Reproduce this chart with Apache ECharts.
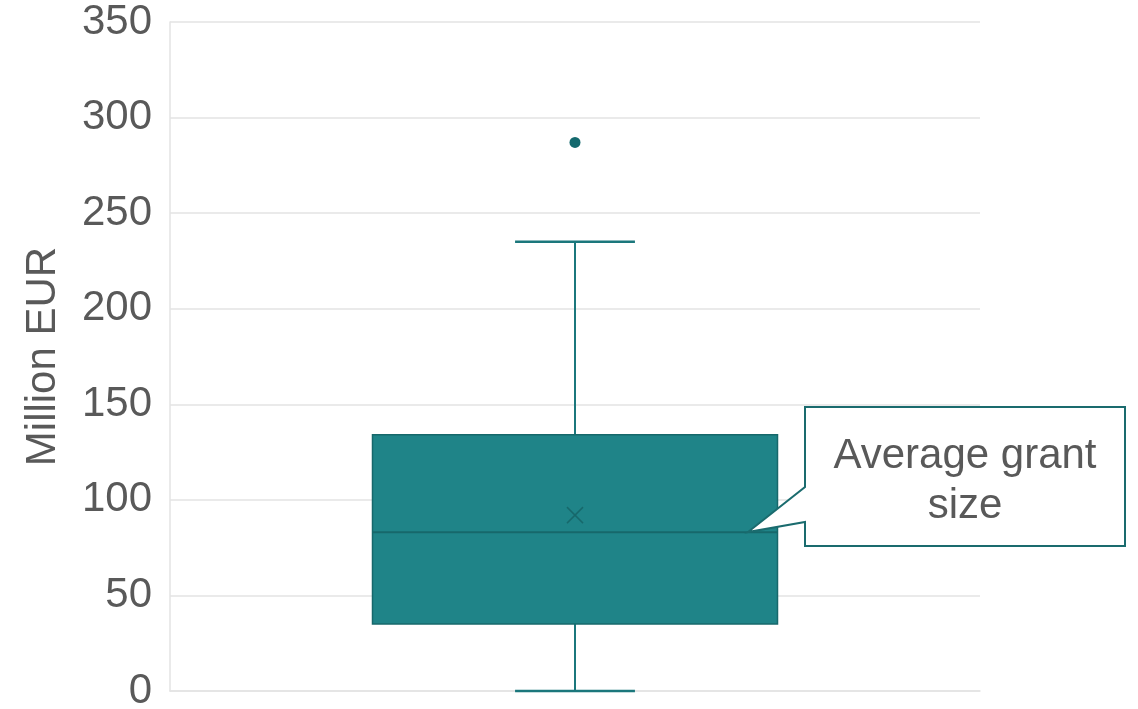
<!DOCTYPE html>
<html>
<head>
<meta charset="utf-8">
<script src="https://cdn.jsdelivr.net/npm/echarts@6/dist/echarts.min.js"></script>
<style>
html,body{margin:0;padding:0;background:#fff;}
#main{width:1138px;height:709px;}
</style>
</head>
<body>
<div id="main"></div>
<script>
// ---- data ----
const categories = ['Grants'];
// [min, Q1, median, Q3, max]
const boxStats = [0, 35, 83, 134, 235];
const meanValue = 92;
const outliers = [287];
const yAxisName = 'Million EUR';
const calloutText = ['Average grant', 'size'];
const yMin = 0, yMax = 350, yStep = 50;

const FILL = '#1F8488';
const DARK = '#17686B';
const WHISK = '#1B777C';
const TEXT = '#595959';
const FONT = '"Liberation Sans", Arial, sans-serif';

const chart = echarts.init(document.getElementById('main'));

chart.setOption({
  animation: false,
  backgroundColor: '#fff',
  grid: { left: 170, right: 158, top: 22, bottom: 18, containLabel: false, outerBoundsMode: 'none' },
  xAxis: {
    type: 'category',
    data: categories,
    axisLine: { show: true, lineStyle: { color: '#E3E3E3', width: 1.5 } },
    axisTick: { show: false },
    axisLabel: { show: false },
    splitLine: { show: false }
  },
  yAxis: {
    type: 'value',
    min: yMin, max: yMax, interval: yStep,
    name: yAxisName,
    nameLocation: 'middle',
    nameGap: 106,
    nameTextStyle: { fontSize: 42, color: TEXT, fontFamily: FONT },
    axisLine: { show: true, lineStyle: { color: '#E3E3E3', width: 1.5 } },
    axisTick: { show: false },
    axisLabel: { fontSize: 42, color: TEXT, fontFamily: FONT, margin: 18, padding: [6, 0, 0, 0] },
    splitLine: { show: true, lineStyle: { color: '#E3E3E3', width: 1.5 } }
  },
  series: [
    {
      type: 'custom',
      data: [[0].concat(boxStats, [meanValue])],
      encode: { x: 0, y: [1, 2, 3, 4, 5] },
      renderItem: function (params, api) {
        const idx = api.value(0);
        const vals = [1,2,3,4,5].map(i => api.value(i));
        const mean = api.value(6);
        const band = api.size([1, 0])[0];
        const cx = api.coord([idx, 0])[0];
        const y = v => api.coord([idx, v])[1];
        const halfBox = band * 0.25;
        const halfCap = band * 0.074;
        const yMinP = y(vals[0]), yQ1 = y(vals[1]), yMed = y(vals[2]), yQ3 = y(vals[3]), yMaxP = y(vals[4]);
        const yMean = y(mean);
        const m = 8;
        return {
          type: 'group',
          children: [
            { type: 'line', shape: { x1: cx, y1: yQ3, x2: cx, y2: yMaxP }, style: { stroke: WHISK, lineWidth: 2 } },
            { type: 'line', shape: { x1: cx, y1: yQ1, x2: cx, y2: yMinP }, style: { stroke: WHISK, lineWidth: 2 } },
            { type: 'line', shape: { x1: cx - halfCap, y1: yMaxP, x2: cx + halfCap, y2: yMaxP }, style: { stroke: WHISK, lineWidth: 2.5 } },
            { type: 'line', shape: { x1: cx - halfCap, y1: yMinP, x2: cx + halfCap, y2: yMinP }, style: { stroke: WHISK, lineWidth: 2.5 } },
            { type: 'rect', shape: { x: cx - halfBox, y: yQ3, width: halfBox * 2, height: yQ1 - yQ3 }, style: { fill: FILL, stroke: DARK, lineWidth: 1.5 } },
            { type: 'line', shape: { x1: cx - halfBox, y1: yMed, x2: cx + halfBox, y2: yMed }, style: { stroke: DARK, lineWidth: 2 } },
            { type: 'line', shape: { x1: cx - m, y1: yMean - m, x2: cx + m, y2: yMean + m }, style: { stroke: DARK, lineWidth: 1.5 } },
            { type: 'line', shape: { x1: cx - m, y1: yMean + m, x2: cx + m, y2: yMean - m }, style: { stroke: DARK, lineWidth: 1.5 } }
          ]
        };
      },
      z: 3
    },
    {
      type: 'scatter',
      data: outliers.map(v => [0, v]),
      symbol: 'circle',
      symbolSize: 11,
      itemStyle: { color: '#14696E', opacity: 1 },
      emphasis: { disabled: true },
      z: 4
    }
  ],
  graphic: [
    {
      type: 'polygon',
      shape: { points: [[805,407],[1125,407],[1125,546],[805,546],[805,522],[748,532],[805,487]] },
      style: { fill: '#fff', stroke: '#1A6B6E', lineWidth: 2 },
      z: 10
    },
    {
      type: 'text',
      x: 965, y: 481,
      style: {
        text: calloutText.join('\n'),
        fontSize: 42, fontFamily: FONT, fill: TEXT,
        align: 'center', verticalAlign: 'middle', lineHeight: 50
      },
      z: 11
    }
  ]
});
</script>
</body>
</html>
